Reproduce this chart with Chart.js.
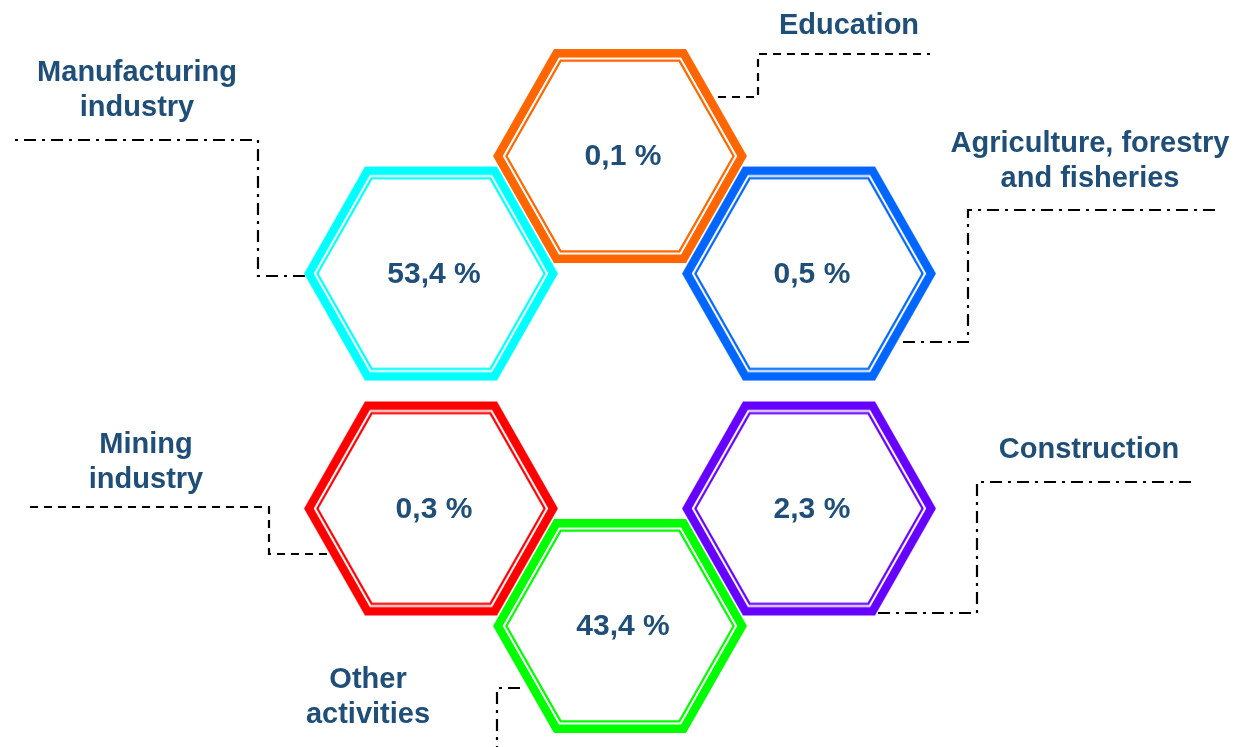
<!DOCTYPE html>
<html>
<head>
<meta charset="utf-8">
<script src="https://cdn.jsdelivr.net/npm/chart.js@4.4.1/dist/chart.umd.min.js"></script>
<style>
  html, body { margin: 0; padding: 0; background: #fff; }
  #wrap { width: 1248px; height: 747px; position: relative; }
</style>
</head>
<body>
<div id="wrap"><canvas id="chart"></canvas></div>
<script>
// ── Data ─────────────────────────────────────────────────────────────────
// Sectors clockwise from the top hexagon; labels split into their lines.
const categories = [
  ['Education'],
  ['Agriculture, forestry', 'and fisheries'],
  ['Construction'],
  ['Other', 'activities'],
  ['Mining', 'industry'],
  ['Manufacturing', 'industry'],
];
const shares  = [0.1, 0.5, 2.3, 43.4, 0.3, 53.4];   // % of total
const colours = ['#FF6600', '#0066FF', '#6600FF', '#00FF00', '#FF0000', '#00FFFF'];

// ── Layout (pixels / styles only) ───────────────────────────────────────
const TEXT = '#1F4E79';
const FONT = '"Liberation Sans", Arial, sans-serif';
const DASH     = [8, 6];
const DASH_DOT = [12, 6, 3, 6];

// Callout per sector: label centre of first line, leader line path, dash style
const callouts = [
  { tx: 849,  ty: 26,  path: [[718, 97], [758, 97], [758, 54], [930, 54]],       dash: DASH },
  { tx: 1090, ty: 144, path: [[903, 342], [968, 342], [968, 210], [1217, 210]],  dash: DASH_DOT },
  { tx: 1089, ty: 450, path: [[878, 613], [977, 613], [977, 482], [1197, 482]],  dash: DASH_DOT },
  { tx: 368,  ty: 680, path: [[520, 688], [497, 688], [497, 747]],               dash: DASH_DOT },
  { tx: 146,  ty: 445, path: [[327, 554], [269, 554], [269, 507], [27, 507]],    dash: DASH },
  { tx: 137,  ty: 73,  path: [[305, 276], [258, 276], [258, 140], [10, 140]],    dash: DASH_DOT },
];

// Ring position of each slot (angle only, scales do the rest)
function slot(i) {
  const a = (90 - 60 * i) * Math.PI / 180;
  return { x: Math.cos(a), y: Math.sin(a) };
}

function hexPath(ctx, cx, cy, rx, rt, h) {
  ctx.beginPath();
  ctx.moveTo(cx - rx, cy);
  ctx.lineTo(cx - rt, cy - h);
  ctx.lineTo(cx + rt, cy - h);
  ctx.lineTo(cx + rx, cy);
  ctx.lineTo(cx + rt, cy + h);
  ctx.lineTo(cx - rt, cy + h);
  ctx.closePath();
}

// Hexagon point style: thick outer ring plus thin inner ring
function hexImage(colour) {
  const c = document.createElement('canvas');
  c.width = 262; c.height = 222;
  const ctx = c.getContext('2d');
  const cx = c.width / 2, cy = c.height / 2;
  const RX = 127, RT = 66, H = 107;
  ctx.strokeStyle = colour;
  ctx.lineJoin = 'miter';
  ctx.fillStyle = '#fff';
  ctx.lineWidth = 8.5;
  hexPath(ctx, cx, cy, RX - 4.25 * 1.155, RT - 4.25 * 0.577, H - 4.25);
  ctx.fill();
  ctx.stroke();
  ctx.lineWidth = 2.2;
  hexPath(ctx, cx, cy, RX - 11.6 * 1.155, RT - 11.6 * 0.577, H - 11.6);
  ctx.stroke();
  return c;
}

const formatShare = v => `${v.toFixed(1).replace('.', ',')} %`;

// ── Plugins ─────────────────────────────────────────────────────────────
const calloutPlugin = {
  id: 'callouts',
  beforeDatasetsDraw(chart) {
    const ctx = chart.ctx;
    ctx.save();
    ctx.strokeStyle = '#000';
    ctx.lineWidth = 2.2;
    callouts.forEach(c => {
      ctx.setLineDash(c.dash);
      ctx.beginPath();
      c.path.forEach(([x, y], k) => k ? ctx.lineTo(x, y) : ctx.moveTo(x, y));
      ctx.stroke();
    });
    ctx.restore();
  },
  afterDatasetsDraw(chart) {
    const ctx = chart.ctx;
    const meta = chart.getDatasetMeta(0);
    ctx.save();
    ctx.fillStyle = TEXT;
    ctx.textAlign = 'center';
    ctx.textBaseline = 'middle';

    // values inside the hexagons
    ctx.font = `bold 30px ${FONT}`;
    meta.data.forEach((el, i) => {
      ctx.fillText(formatShare(shares[i]), el.x + 3, el.y + 1);
    });

    // sector names
    ctx.font = `bold 29px ${FONT}`;
    categories.forEach((lines, i) => {
      lines.forEach((line, k) => {
        ctx.fillText(line, callouts[i].tx, callouts[i].ty + k * 35);
      });
    });
    ctx.restore();
  },
};

// ── Chart ───────────────────────────────────────────────────────────────
new Chart(document.getElementById('chart'), {
  type: 'scatter',
  data: {
    labels: categories,
    datasets: [{
      data: categories.map((_, i) => slot(i)),
      pointStyle: colours.map(hexImage),
      pointRadius: 10,
      clip: false,
    }],
  },
  options: {
    responsive: true,
    maintainAspectRatio: false,
    animation: false,
    events: [],
    layout: { padding: 0, autoPadding: false },
    scales: {
      x: { type: 'linear', display: false, min: -2.841, max: 2.878 },
      y: { type: 'linear', display: false, min: -1.515, max: 1.664 },
    },
    plugins: {
      legend: { display: false },
      tooltip: { enabled: false },
    },
  },
  plugins: [calloutPlugin],
});
</script>
</body>
</html>
